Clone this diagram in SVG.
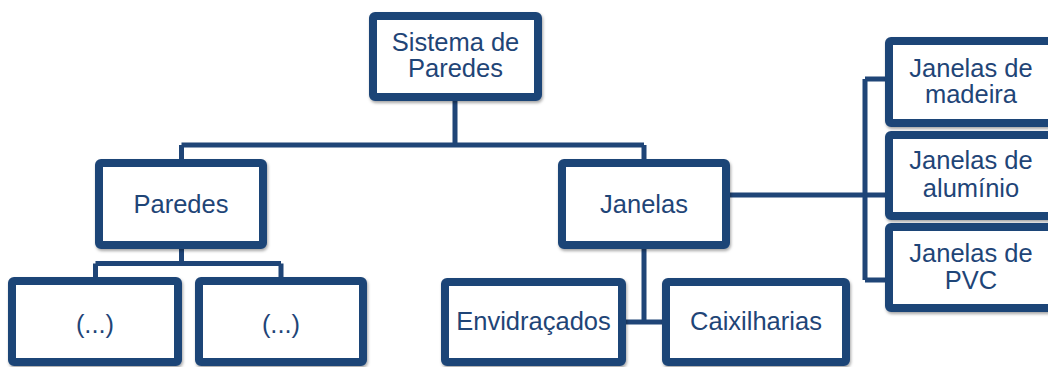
<svg xmlns="http://www.w3.org/2000/svg" width="1048" height="367" viewBox="0 0 1048 367">
  <defs>
    <filter id="sh" x="-10%" y="-10%" width="120%" height="130%">
      <feDropShadow dx="1" dy="2" stdDeviation="1.5" flood-color="#000" flood-opacity="0.35"/>
    </filter>
    <style>
      .box { fill: #ffffff; stroke: #1f4577; stroke-width: 8; rx: 2; filter: url(#sh); }
      .lbl { font-family: "Liberation Sans", Arial, sans-serif; font-size: 25.5px; fill: #1f4577; text-anchor: middle; }
      .con { stroke: #1f4577; stroke-width: 5; fill: none; }
    </style>
  </defs>
  <rect width="1048" height="367" fill="#ffffff"/>

  <g id="connectors">
    <path class="con" d="M455 101 V145 M181.5 145 H644 M181.5 145 V160 M644 145 V160"/>
    <path class="con" d="M181.5 248 V263.5 M95.5 263.5 H281 M95.5 263.5 V278 M281 263.5 V278"/>
    <path class="con" d="M644 248 V322 M625 322 H663"/>
    <path class="con" d="M729 195 H886 M865 79 V280 M865 79 H886 M865 280 H886"/>
  </g>

  <g id="node-sistema">
    <rect class="box" x="373" y="16" width="165" height="81"/>
    <text class="lbl" x="455.5" y="50.5">Sistema de</text>
    <text class="lbl" x="455.5" y="76.5">Paredes</text>
  </g>
  <g id="node-paredes">
    <rect class="box" x="99" y="163" width="164" height="82"/>
    <text class="lbl" x="181" y="212.5">Paredes</text>
  </g>
  <g id="node-janelas">
    <rect class="box" x="562" y="163" width="164" height="82"/>
    <text class="lbl" x="644" y="213">Janelas</text>
  </g>
  <g id="node-p1">
    <rect class="box" x="12" y="281" width="166" height="81"/>
    <text class="lbl" x="95" y="333">(...)</text>
  </g>
  <g id="node-p2">
    <rect class="box" x="199" y="281" width="164" height="81"/>
    <text class="lbl" x="281" y="333">(...)</text>
  </g>
  <g id="node-envidracados">
    <rect class="box" x="445" y="282" width="177" height="80"/>
    <text class="lbl" x="533.5" y="330">Envidraçados</text>
  </g>
  <g id="node-caixilharias">
    <rect class="box" x="666" y="282" width="180" height="80"/>
    <text class="lbl" x="756" y="330">Caixilharias</text>
  </g>
  <g id="node-madeira">
    <rect class="box" x="889" y="41" width="164" height="82"/>
    <text class="lbl" x="971" y="76.5">Janelas de</text>
    <text class="lbl" x="971" y="103">madeira</text>
  </g>
  <g id="node-aluminio">
    <rect class="box" x="889" y="135" width="164" height="81"/>
    <text class="lbl" x="971" y="169">Janelas de</text>
    <text class="lbl" x="971" y="196.5">alumínio</text>
  </g>
  <g id="node-pvc">
    <rect class="box" x="889" y="227" width="164" height="81"/>
    <text class="lbl" x="971" y="261.5">Janelas de</text>
    <text class="lbl" x="971" y="289">PVC</text>
  </g>
</svg>
